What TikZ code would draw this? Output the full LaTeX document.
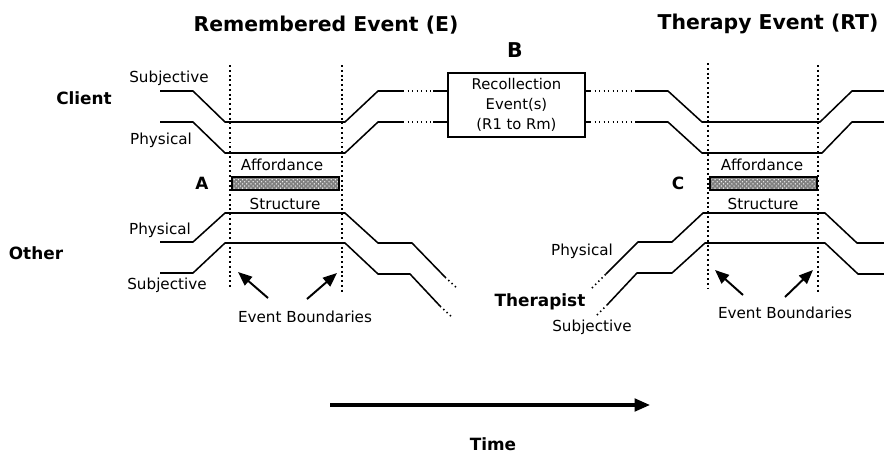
\documentclass[tikz,border=0pt]{standalone}
\usepackage{fontspec}
\setmainfont{DejaVu Sans}
\usepackage{xcolor}
\usepackage{tikz}
\usetikzlibrary{arrows.meta,calc,positioning,patterns}

\tikzset{
  trace/.style={line width=1.1pt,line join=round},
  gap/.style={line width=1.1pt,dash pattern=on 1pt off 2.2pt},
  bound/.style={line width=1.4pt,dash pattern=on 1.4pt off 2pt},
  lab/.style={font=\fontsize{10.8}{13}\selectfont,inner sep=0pt},
  who/.style={font=\fontsize{12}{14}\selectfont\bfseries,inner sep=0pt},
  ttl/.style={font=\fontsize{14.5}{17}\selectfont\bfseries,inner sep=0pt},
  ptr/.style={-{Triangle[length=10pt,width=8pt]},line width=1.4pt},
  stripe/.style={draw,line width=1pt,pattern=crosshatch dots,pattern color=white}
}

\begin{document}
\begin{tikzpicture}[x=.025cm,y=-.025cm]
\useasboundingbox (0,0) rectangle (884,456);
% titles
\node[ttl] (remE) at (326,25) {Remembered Event (E)};
\node[ttl] (therRT) at (768,24) {Therapy Event (RT)};
\node[ttl] (labB) at (515,50) {B};
% recollection box
\node[draw,line width=1.7pt,minimum width=3.42cm,minimum height=1.6cm,align=center,
      font=\fontsize{10.5}{14}\selectfont,inner sep=0pt] (recoll) at (516.5,105)
      {Recollection\\Event(s)\\(R1 to Rm)};
\coordinate (yS) at (0,91);
\coordinate (yP) at (0,122);
% event boundaries
\draw[bound] (230,65) -- (230,288);
\draw[bound] (342,65) -- (342,294);
\draw[bound] (708,63) -- (708,289);
\draw[bound] (818,65) -- (818,294);
% client, remembered event
\draw[trace] (160,91) -- (193,91) -- (225,122) -- (345,122) -- (378,91) -- (403,91);
\draw[gap] (403,91) -- (433,91);
\draw[trace] (433,91) -- (recoll.west |- yS);
\draw[trace] (160,122) -- (193,122) -- (225,153) -- (345,153) -- (378,122) -- (403,122);
\draw[gap] (403,122) -- (433,122);
\draw[trace] (433,122) -- (recoll.west |- yP);
% client, therapy event
\draw[trace] (recoll.east |- yS) -- (590,91);
\draw[gap] (590,91) -- (635,91);
\draw[trace] (635,91) -- (668,91) -- (702,122) -- (820,122) -- (852,91) -- (884,91);
\draw[trace] (recoll.east |- yP) -- (590,122);
\draw[gap] (590,122) -- (635,122);
\draw[trace] (635,122) -- (668,122) -- (702,153) -- (822,153) -- (852,122) -- (884,122);
% other
\draw[trace] (160,242) -- (193,242) -- (225,213) -- (345,213) -- (378,243) -- (412,243) -- (445,277);
\draw[gap] (445,277) -- (458,289);
\draw[trace] (160,273) -- (193,273) -- (225,243) -- (345,243) -- (378,274) -- (410,274) -- (440,306);
\draw[gap] (440,306) -- (453,318);
% therapist
\draw[gap] (592,288) -- (606,274);
\draw[trace] (606,274) -- (638,242) -- (672,242) -- (703,213) -- (825,213) -- (857,243) -- (884,243);
\draw[gap] (597,315) -- (607,305);
\draw[trace] (607,305) -- (637,273) -- (672,273) -- (705,243) -- (825,243) -- (858,274) -- (884,274);
% affordance / structure
\fill[black!50] (232,177) rectangle (339,190);
\draw[stripe] (232,177) rectangle (339,190);
\fill[black!50] (710,177) rectangle (817,190);
\draw[stripe] (710,177) rectangle (817,190);
\node[lab] (affA) at (282,165) {Affordance};
\node[lab] (strA) at (285,204) {Structure};
\node[lab] (affC) at (762,165) {Affordance};
\node[lab] (strC) at (763,204) {Structure};
\node[who] (labA) at (202,183) {A};
\node[who] (labC) at (678,183) {C};
% row labels
\node[who] (client) at (84,98) {Client};
\node[who] (other) at (36,253) {Other};
\node[who] (therapist) at (540,302) {Therapist};
\node[lab] (subjCl) at (169,78) {Subjective};
\node[lab] (physCl) at (161,140) {Physical};
\node[lab] (physOt) at (160,230) {Physical};
\node[lab] (subjOt) at (167,285) {Subjective};
\node[lab] (physTh) at (582,251) {Physical};
\node[lab] (subjTh) at (592,327) {Subjective};
% boundary pointers
\node[lab] (evbE) at (305,317) {Event Boundaries};
\node[lab] (evbRT) at (785,313) {Event Boundaries};
\coordinate (pE1) at (268,298); \coordinate (qE1) at (238,272);
\coordinate (pE2) at (307,299); \coordinate (qE2) at (337,273);
\coordinate (pT1) at (743,295); \coordinate (qT1) at (715,270);
\coordinate (pT2) at (785,297); \coordinate (qT2) at (813,270);
\draw[ptr] (pE1) -- (qE1);
\draw[ptr] (pE2) -- (qE2);
\draw[ptr] (pT1) -- (qT1);
\draw[ptr] (pT2) -- (qT2);
% time axis
\coordinate (t0) at (330,405);
\coordinate (t1) at (650,405);
\draw[line width=2.2pt,-{Triangle[length=11pt,width=9pt]}] (t0) -- (t1);
\node[who] (time) at (493,444) {Time};
\end{tikzpicture}
\end{document}
